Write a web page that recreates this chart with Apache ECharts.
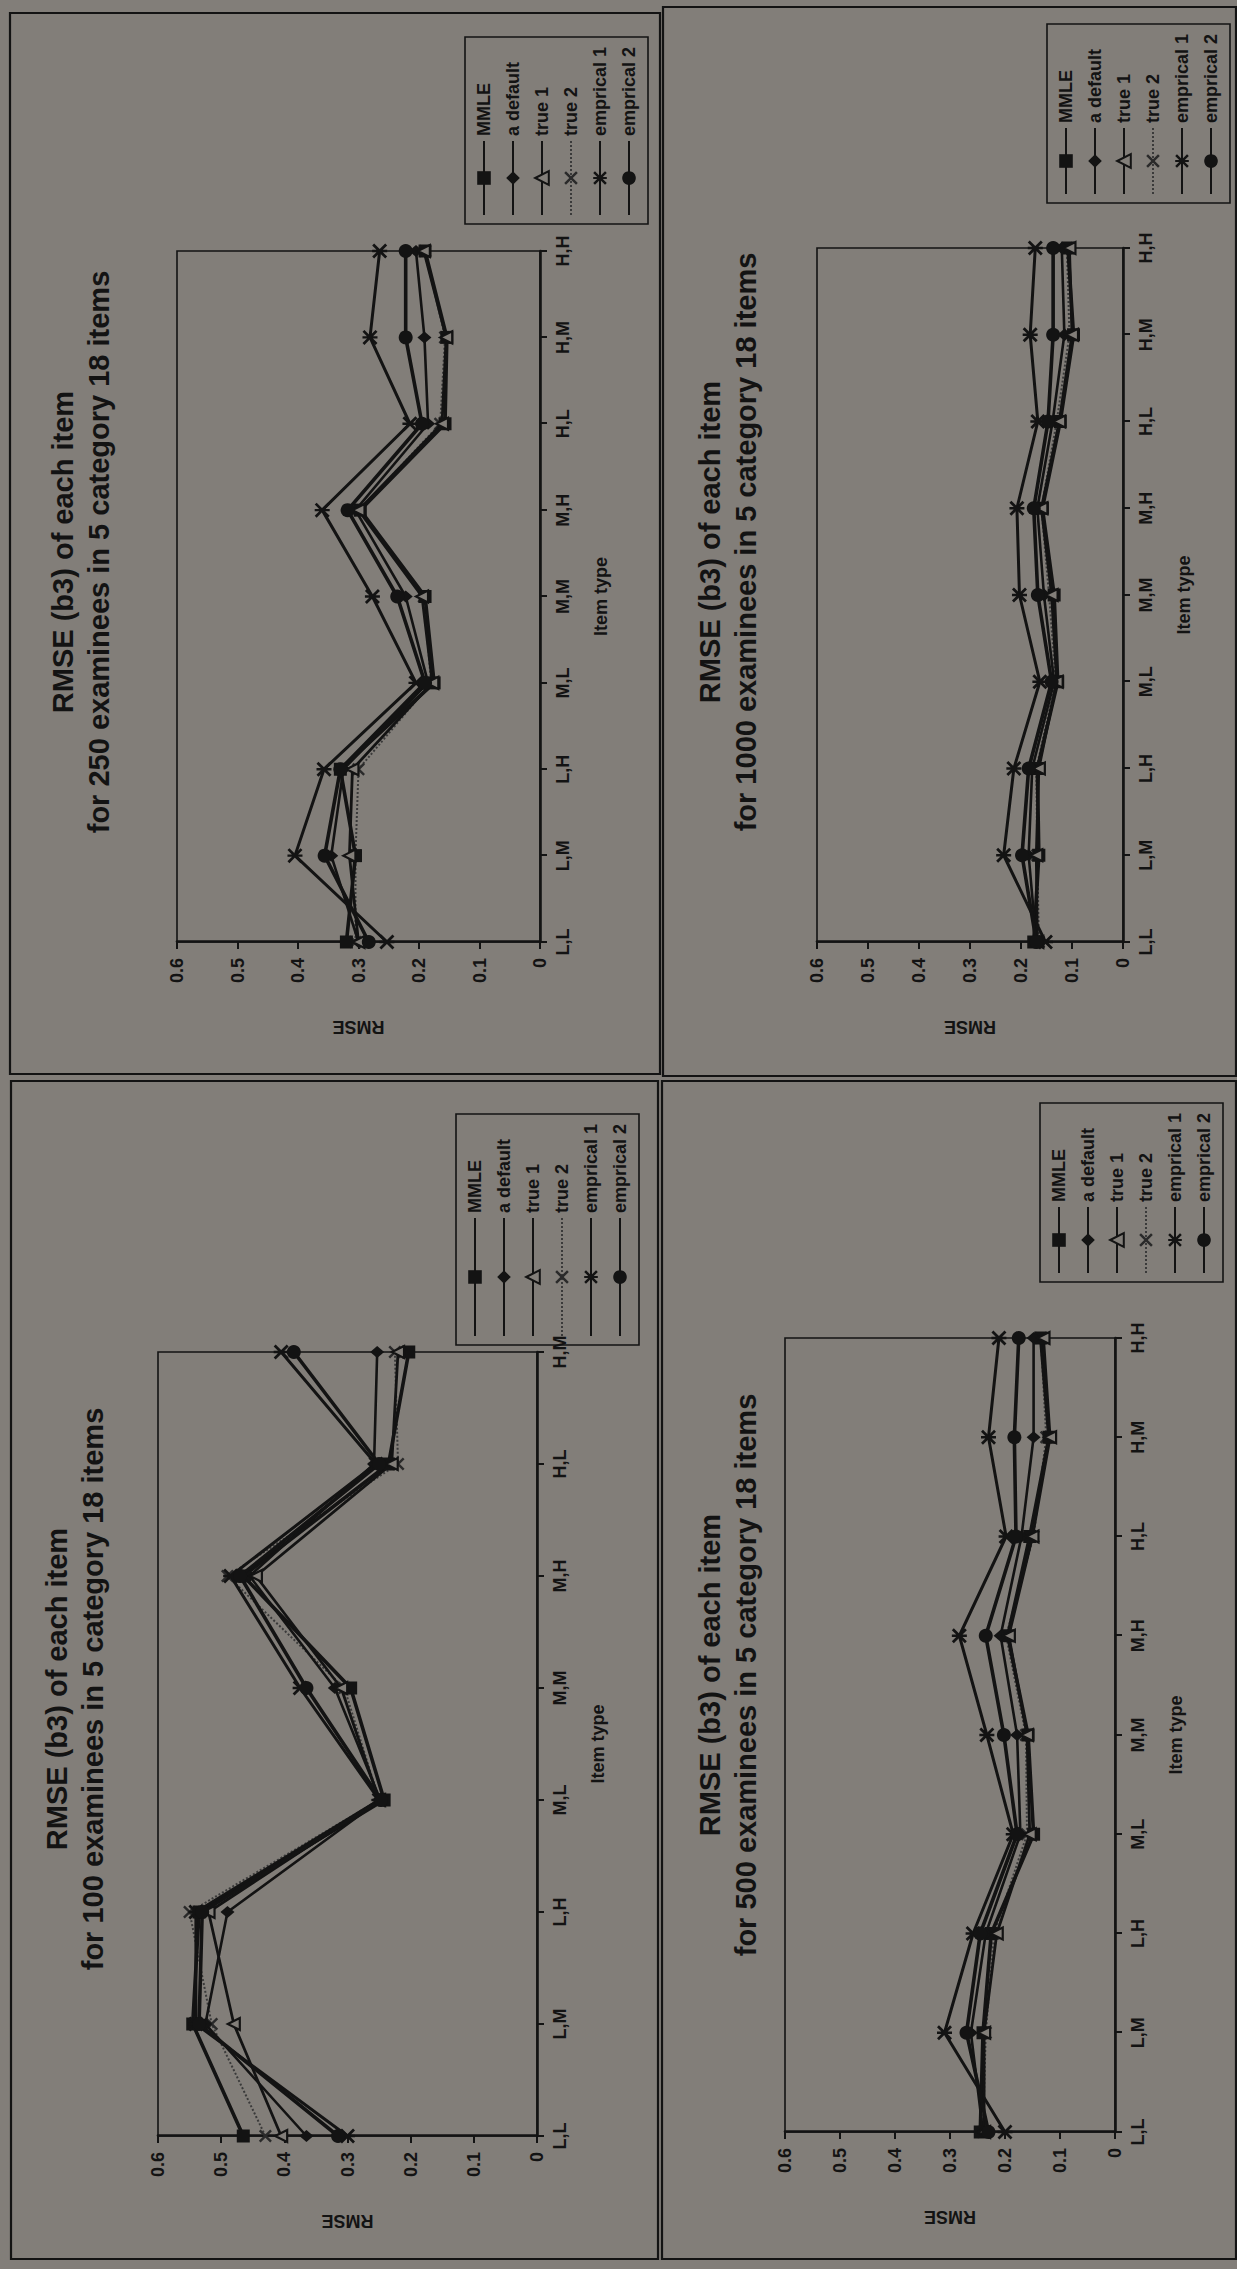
<!DOCTYPE html>
<html>
<head>
<meta charset="utf-8">
<script src="https://cdn.jsdelivr.net/npm/echarts@6.0.0/dist/echarts.min.js"></script>
<style>
  html, body { margin: 0; padding: 0; width: 1237px; height: 2269px; overflow: hidden; background: #817d78; }
  /* The sheet is laid out landscape and turned a quarter turn counter-clockwise. */
  #sheet {
    position: absolute; left: 0; top: 0;
    width: 2269px; height: 1237px;
    transform-origin: 0 0;
    transform: translate(0, 2269px) rotate(-90deg);
  }
</style>
</head>
<body>
<div id="sheet"></div>
<script>
// ---- data -------------------------------------------------------------
const itemTypes = ['L,L', 'L,M', 'L,H', 'M,L', 'M,M', 'M,H', 'H,L', 'H,M', 'H,H'];
const itemTypes100 = ['L,L', 'L,M', 'L,H', 'M,L', 'M,M', 'M,H', 'H,L', 'H,M'];
const methodNames = ['MMLE', 'a default', 'true 1', 'true 2', 'emprical 1', 'emprical 2'];
const rmseTicks = [0, 0.1, 0.2, 0.3, 0.4, 0.5, 0.6];

// 100 examinees
const mmle100     = [0.465, 0.545, 0.535, 0.242, 0.295, 0.465, 0.235, 0.203];
const aDefault100 = [0.365, 0.525, 0.490, 0.248, 0.320, 0.455, 0.258, 0.253];
const true1_100   = [0.405, 0.480, 0.520, 0.250, 0.310, 0.445, 0.230, 0.220];
const true2_100   = [0.430, 0.515, 0.550, 0.250, 0.305, 0.490, 0.220, 0.225];
const emp1_100    = [0.300, 0.540, 0.540, 0.250, 0.375, 0.485, 0.255, 0.405];
const emp2_100    = [0.315, 0.535, 0.530, 0.247, 0.365, 0.470, 0.250, 0.385];

// 250 examinees
const mmle250     = [0.320, 0.305, 0.330, 0.175, 0.190, 0.297, 0.157, 0.154, 0.190];
const aDefault250 = [0.300, 0.345, 0.325, 0.185, 0.222, 0.305, 0.185, 0.191, 0.205];
const true1_250   = [0.300, 0.315, 0.310, 0.178, 0.195, 0.300, 0.162, 0.155, 0.192];
const true2_250   = [0.305, 0.305, 0.300, 0.180, 0.192, 0.298, 0.165, 0.157, 0.190];
const emp1_250    = [0.253, 0.405, 0.357, 0.205, 0.277, 0.360, 0.215, 0.281, 0.265];
const emp2_250    = [0.283, 0.356, 0.330, 0.190, 0.236, 0.318, 0.195, 0.222, 0.222];

// 500 examinees
const mmle500     = [0.245, 0.240, 0.225, 0.148, 0.158, 0.195, 0.155, 0.120, 0.135];
const aDefault500 = [0.240, 0.262, 0.235, 0.172, 0.178, 0.208, 0.170, 0.148, 0.148];
const true1_500   = [0.238, 0.238, 0.215, 0.155, 0.160, 0.193, 0.150, 0.118, 0.130];
const true2_500   = [0.240, 0.235, 0.220, 0.160, 0.162, 0.198, 0.148, 0.125, 0.135];
const emp1_500    = [0.200, 0.310, 0.258, 0.185, 0.233, 0.283, 0.198, 0.230, 0.211];
const emp2_500    = [0.230, 0.270, 0.245, 0.178, 0.202, 0.235, 0.180, 0.183, 0.175];

// 1000 examinees
const mmle1000     = [0.175, 0.165, 0.168, 0.128, 0.135, 0.158, 0.123, 0.097, 0.108];
const aDefault1000 = [0.170, 0.185, 0.178, 0.135, 0.155, 0.168, 0.138, 0.115, 0.120];
const true1_1000   = [0.168, 0.170, 0.165, 0.130, 0.140, 0.160, 0.125, 0.100, 0.105];
const true2_1000   = [0.165, 0.168, 0.170, 0.132, 0.145, 0.160, 0.130, 0.105, 0.110];
const emp1_1000    = [0.152, 0.234, 0.214, 0.163, 0.203, 0.208, 0.167, 0.182, 0.172];
const emp2_1000    = [0.170, 0.198, 0.185, 0.140, 0.167, 0.175, 0.147, 0.137, 0.137];

// ---- look ---------------------------------------------------------------
const INK = '#131313';
const PAPER = '#827e79';
const FONT = "'Liberation Sans', Arial, Helvetica, sans-serif";

const X_MARK = 'path://M0,1.3L1.3,0L5,3.7L8.7,0L10,1.3L6.3,5L10,8.7L8.7,10L5,6.3L1.3,10L0,8.7L3.7,5Z';
const STAR_MARK = X_MARK + 'M4.2,0L5.8,0L5.8,10L4.2,10Z';

const methodLooks = [
  { symbol: 'rect',     size: 13,       width: 3.6, type: 'solid',  line: INK,       fill: INK },
  { symbol: 'diamond',  size: [12, 14], width: 2.6, type: 'solid',  line: INK,       fill: INK },
  { symbol: 'triangle', size: 12,       width: 2.8, type: 'solid',  line: INK,       fill: PAPER, border: INK, borderWidth: 2.2 },
  { symbol: X_MARK,     size: 13,       width: 2,   type: 'dotted', line: '#3a3a3a', fill: '#2a2a2a' },
  { symbol: STAR_MARK,  size: 15,       width: 3,   type: 'solid',  line: INK,       fill: INK },
  { symbol: 'circle',   size: 14,       width: 3.6, type: 'solid',  line: INK,       fill: INK }
];

// ---- panel layout (landscape sheet coordinates) --------------------------
const panels = [
  {
    heading: ['RMSE (b3) of each item', 'for 100 examinees in 5 category 18 items'],
    cats: itemTypes100,
    values: [mmle100, aDefault100, true1_100, true2_100, emp1_100, emp2_100],
    grid: { left: 133, top: 158, width: 784, height: 379 },
    headingAt: [580, 39],
    legendAt: { left: 924, top: 456 }, legendLine: 118,
    frame: [10, 11, 1178, 647]
  },
  {
    heading: ['RMSE (b3) of each item', 'for 250 examinees in 5 category 18 items'],
    cats: itemTypes,
    values: [mmle250, aDefault250, true1_250, true2_250, emp1_250, emp2_250],
    grid: { left: 1327, top: 177, width: 691, height: 363 },
    headingAt: [1717, 45],
    legendAt: { left: 2045, top: 465 }, legendLine: 74,
    frame: [1195, 10, 1061, 650]
  },
  {
    heading: ['RMSE (b3) of each item', 'for 500 examinees in 5 category 18 items'],
    cats: itemTypes,
    values: [mmle500, aDefault500, true1_500, true2_500, emp1_500, emp2_500],
    grid: { left: 137, top: 785, width: 794, height: 330 },
    headingAt: [594, 692],
    legendAt: { left: 987, top: 1040 }, legendLine: 66,
    frame: [10, 662, 1178, 574]
  },
  {
    heading: ['RMSE (b3) of each item', 'for 1000 examinees in 5 category 18 items'],
    cats: itemTypes,
    values: [mmle1000, aDefault1000, true1_1000, true2_1000, emp1_1000, emp2_1000],
    grid: { left: 1327, top: 817, width: 694, height: 306 },
    headingAt: [1727, 692],
    legendAt: { left: 2066, top: 1047 }, legendLine: 66,
    frame: [1193, 663, 1069, 573]
  }
];

// ---- build option -------------------------------------------------------
const grids = [], xAxes = [], yAxes = [], series = [], legends = [], graphics = [];

panels.forEach((p, i) => {
  grids.push(Object.assign({ show: true, borderColor: INK, borderWidth: 1.6, backgroundColor: 'transparent' }, p.grid));

  xAxes.push({
    type: 'category', gridIndex: i, data: p.cats, boundaryGap: false,
    name: 'Item type', nameLocation: 'middle', nameGap: 52,
    nameTextStyle: { color: INK, fontFamily: FONT, fontWeight: 'bold', fontSize: 18 },
    axisLine: { lineStyle: { color: INK, width: 2.6 } },
    axisTick: { show: true, length: 7, lineStyle: { color: INK, width: 2 } },
    axisLabel: { color: INK, fontFamily: FONT, fontWeight: 'bold', fontSize: 18, margin: 14 },
    splitLine: { show: false }
  });

  yAxes.push({
    type: 'value', gridIndex: i, min: rmseTicks[0], max: rmseTicks[rmseTicks.length - 1], interval: 0.1,
    name: 'RMSE', nameLocation: 'middle', nameGap: 76, nameRotate: 90,
    nameTextStyle: { color: INK, fontFamily: FONT, fontWeight: 'bold', fontSize: 18 },
    axisLine: { show: true, lineStyle: { color: INK, width: 2.6 } },
    axisTick: { show: true, length: 7, lineStyle: { color: INK, width: 2 } },
    axisLabel: { color: INK, fontFamily: FONT, fontWeight: 'bold', fontSize: 18, margin: 16 },
    splitLine: { show: false }
  });

  p.values.forEach((vals, k) => {
    const look = methodLooks[k];
    series.push({
      type: 'line', name: methodNames[k], xAxisIndex: i, yAxisIndex: i,
      data: vals, symbol: look.symbol, symbolSize: look.size, showAllSymbol: true,
      animation: false, z: 3 + (k === 3 ? 0 : 1),
      lineStyle: { color: look.line, width: look.width, type: look.type },
      itemStyle: { color: look.fill, borderColor: look.border || look.fill, borderWidth: look.borderWidth || 0, opacity: 1 }
    });
  });

  legends.push({
    orient: 'vertical', left: p.legendAt.left, top: p.legendAt.top,
    data: methodNames, itemWidth: p.legendLine, itemHeight: 17, itemGap: 9,
    padding: [9, 10, 9, 8], borderColor: INK, borderWidth: 1.6, backgroundColor: 'transparent',
    selectedMode: false,
    textStyle: { color: INK, fontFamily: FONT, fontWeight: 'bold', fontSize: 18, lineHeight: 20, padding: [0, 0, 0, 0] }
  });

  graphics.push({
    type: 'rect', silent: true, z: -1,
    shape: { x: p.frame[0], y: p.frame[1], width: p.frame[2], height: p.frame[3] },
    style: { fill: 'none', stroke: INK, lineWidth: 2.2 }
  });
  graphics.push({
    type: 'text', silent: true,
    x: p.headingAt[0], y: p.headingAt[1],
    style: {
      text: p.heading.join('\n'), fill: INK, align: 'center', verticalAlign: 'top',
      fontFamily: FONT, fontWeight: 'bold', fontSize: 29, lineHeight: 36
    }
  });
});

const chart = echarts.init(document.getElementById('sheet'), null, { renderer: 'svg', width: 2269, height: 1237 });
chart.setOption({
  backgroundColor: PAPER,
  animation: false,
  grid: grids, xAxis: xAxes, yAxis: yAxes,
  legend: legends, series: series, graphic: graphics
});
</script>
</body>
</html>
